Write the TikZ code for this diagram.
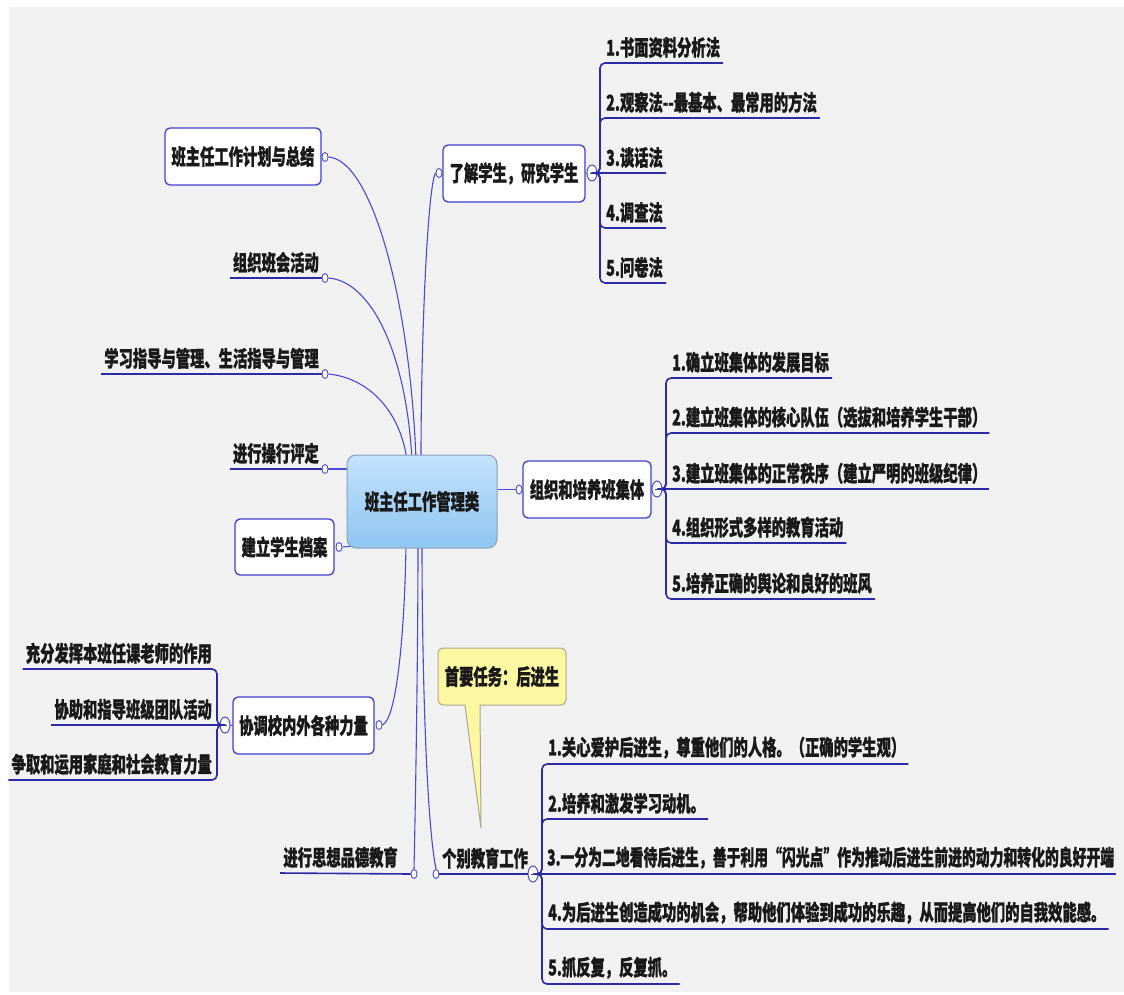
\documentclass[tikz,border=0pt]{standalone}
\usepackage{fontspec}
\setmainfont{Noto Sans CJK SC}[BoldFeatures={FakeBold=1.2}]
\usepackage{graphicx}
\usetikzlibrary{shapes.geometric}
\definecolor{panel}{HTML}{F1F1F1}
\definecolor{lineblue}{HTML}{4B4BD8}
\definecolor{ulblue}{HTML}{2B2BA8}
\definecolor{bord}{HTML}{3F3FD0}
\definecolor{rootTop}{HTML}{C4E2FB}
\definecolor{rootBot}{HTML}{8EC5F2}
\definecolor{rootBord}{HTML}{8A9FB8}
\definecolor{callFill}{HTML}{FCF7A0}
\definecolor{callBord}{HTML}{A8A890}
\pgfdeclarelayer{bg}
\pgfsetlayers{bg,main}
\newcommand\T[1]{\scalebox{1}[1.52]{#1}}
\begin{document}
\begin{tikzpicture}[x=1pt,y=-1pt,
 txt/.style={font=\fontsize{14.3}{16}\selectfont\bfseries, text=black!90},
 topic/.style={txt, draw=bord, line width=1.3pt, fill=white, rounded corners=5pt, inner sep=0pt},
 leaf/.style={txt, inner xsep=3pt, inner ysep=5pt},
 conn/.style={draw=lineblue, line width=1.1pt},
 uline/.style={draw=ulblue, line width=1.6pt, rounded corners=5pt},
 smalldot/.style={ellipse, draw=lineblue, fill=white, line width=0.9pt, minimum width=6pt, minimum height=9pt, inner sep=0pt},
 minusdot/.style={ellipse, draw=lineblue, fill=white, line width=1pt, minimum width=10pt, minimum height=16pt, inner sep=0pt,
   path picture={\draw[line width=0.8pt,black!70] ([xshift=-1.8pt]path picture bounding box.center) -- ([xshift=1.8pt]path picture bounding box.center);}},
 callout/.style={txt, draw=callBord, line width=1pt, fill=callFill, rounded corners=5pt, inner sep=0pt}
]
\useasboundingbox (0,0) rectangle (1124,994);
\begin{pgfonlayer}{bg}
\fill[white] (0,0) rectangle (1124,994);
\fill[panel] (9,7) rectangle (1124,992);
\end{pgfonlayer}

% central node
\node[txt, draw=rootBord, line width=1pt, rounded corners=9pt, top color=rootTop, bottom color=rootBot,
  minimum width=150pt, minimum height=93pt, inner sep=0pt] (root) at (422,501.5) {\T{班主任工作管理类}};

% main topics (boxed)
\node[topic, minimum width=156pt, minimum height=57pt] (plan) at (243,156.5) {\T{班主任工作计划与总结}};
\node[topic, minimum width=142pt, minimum height=57pt] (learn) at (514,173.5) {\T{了解学生，研究学生}};
\node[topic, minimum width=128pt, minimum height=57pt] (org) at (587,489.5) {\T{组织和培养班集体}};
\node[topic, minimum width=99pt, minimum height=56pt] (file) at (284.5,547) {\T{建立学生档案}};
\node[topic, minimum width=141pt, minimum height=57pt] (coord) at (303.5,725.5) {\T{协调校内外各种力量}};

% main topics (underlined)
\node[leaf, anchor=south east] (meet) at (322,278) {\T{组织班会活动}};
\node[leaf, anchor=south east] (study) at (322,374) {\T{学习指导与管理、生活指导与管理}};
\node[leaf, anchor=south east] (eval) at (322,469) {\T{进行操行评定}};
\node[leaf, anchor=south east] (moral) at (401,873) {\T{进行思想品德教育}};
\node[leaf, anchor=south west] (indiv) at (439,874) {\T{个别教育工作}};

% small connector dots
\node[smalldot] (dplan) at (325,157) {};
\node[smalldot] (dmeet) at (325,278) {};
\node[smalldot] (dstudy) at (325,374) {};
\node[smalldot] (deval) at (325,469) {};
\node[smalldot] (dfile) at (339,547) {};
\node[smalldot] (dcoord) at (379,725) {};
\node[smalldot] (dmoral) at (414,874) {};
\node[smalldot] (dindiv) at (436,874) {};
\node[smalldot] (dlearn) at (439,173) {};
\node[smalldot] (dorg) at (519,489.5) {};

% collapse (minus) dots
\node[minusdot] (mlearn) at (592,173) {};
\node[minusdot] (morg) at (657,489) {};
\node[minusdot] (mcoord) at (225,725) {};
\node[minusdot] (mindiv) at (533,874) {};

% children of 了解学生
\node[leaf, anchor=south west] (L1) at (603,63) {\T{1.书面资料分析法}};
\node[leaf, anchor=south west] (L2) at (603,118) {\T{2.观察法-{}-最基本、最常用的方法}};
\node[leaf, anchor=south west] (L3) at (603,173) {\T{3.谈话法}};
\node[leaf, anchor=south west] (L4) at (603,228) {\T{4.调查法}};
\node[leaf, anchor=south west] (L5) at (603,283) {\T{5.问卷法}};

% children of 组织和培养班集体
\node[leaf, anchor=south west] (O1) at (669,378) {\T{1.确立班集体的发展目标}};
\node[leaf, anchor=south west] (O2) at (669,433) {\T{2.建立班集体的核心队伍（选拔和培养学生干部）}};
\node[leaf, anchor=south west] (O3) at (669,489) {\T{3.建立班集体的正常秩序（建立严明的班级纪律）}};
\node[leaf, anchor=south west] (O4) at (669,543) {\T{4.组织形式多样的教育活动}};
\node[leaf, anchor=south west] (O5) at (669,599) {\T{5.培养正确的舆论和良好的班风}};

% children of 协调校内外各种力量
\node[leaf, anchor=south east] (C1) at (215,669) {\T{充分发挥本班任课老师的作用}};
\node[leaf, anchor=south east] (C2) at (215,725) {\T{协助和指导班级团队活动}};
\node[leaf, anchor=south east] (C3) at (215,780) {\T{争取和运用家庭和社会教育力量}};

% children of 个别教育工作
\node[leaf, anchor=south west] (I1) at (545,764) {\T{1.关心爱护后进生，尊重他们的人格。（正确的学生观）}};
\node[leaf, anchor=south west] (I2) at (545,819) {\T{2.培养和激发学习动机。}};
\node[leaf, anchor=south west, inner xsep=2pt] (I3) at (545,874) {\scalebox{0.968}[1.52]{3.一分为二地看待后进生，善于利用“闪光点”作为推动后进生前进的动力和转化的良好开端}};
\node[leaf, anchor=south west] (I4) at (545,929) {\T{4.为后进生创造成功的机会，帮助他们体验到成功的乐趣，从而提高他们的自我效能感。}};
\node[leaf, anchor=south west] (I5) at (545,984) {\T{5.抓反复，反复抓。}};

% bracket coordinates and root anchors
\coordinate (bl) at (600,173);
\coordinate (bo) at (666,489);
\coordinate (bc) at (217,725);
\coordinate (bi) at (542,874);
\coordinate (rPlan) at (416,460);
\coordinate (rMeet) at (412,460);
\coordinate (rStudy) at (407,460);
\coordinate (rLearn) at (421,460);
\coordinate (rFile) at (354,546);
\coordinate (rCoord) at (406,543);
\coordinate (rMoral) at (418,543);
\coordinate (rIndiv) at (422,543);

\begin{pgfonlayer}{bg}
% connectors from the central node
\draw[conn] (dplan.east) .. controls (372,160) and (410,300) .. (rPlan);
\draw[conn] (dmeet.east) .. controls (370,281) and (406,350) .. (rMeet);
\draw[conn] (dstudy.east) .. controls (368,378) and (400,410) .. (rStudy);
\draw[conn] (dlearn.west) .. controls (428,185) and (421,330) .. (rLearn);
\draw[conn] (deval.east) -- (root.west |- deval);
\draw[conn] (dfile.east) -- (rFile);
\draw[conn] (dcoord.east) .. controls (398,718) and (405,620) .. (rCoord);
\draw[conn] (dmoral.north) .. controls (416,780) and (418,640) .. (rMoral);
\draw[conn] (dindiv.north) .. controls (426,820) and (422,660) .. (rIndiv);
\draw[conn] (root.east |- dorg) -- (dorg.west);
\draw[conn] (learn.east) -- (mlearn.west);
\draw[conn] (org.east) -- (morg.west);
\draw[conn] (coord.west) -- (mcoord.east);
\end{pgfonlayer}

% underlines of main topics
\draw[uline] (meet.south west) -- (dmeet.west);
\draw[uline] (study.south west) -- (dstudy.west);
\draw[uline] (eval.south west) -- (deval.west);
\draw[uline] (moral.south west) -- (dmoral.west);
\draw[uline] (dindiv.east) -- (mindiv.west);

% brackets with underlines
\draw[uline] (mlearn.east) -- (bl) |- (L1.south east);
\draw[uline] (mlearn.east) -- (bl) |- (L2.south east);
\draw[uline] (mlearn.east) -- (L3.south east);
\draw[uline] (mlearn.east) -- (bl) |- (L4.south east);
\draw[uline] (mlearn.east) -- (bl) |- (L5.south east);

\draw[uline] (morg.east) -- (bo) |- (O1.south east);
\draw[uline] (morg.east) -- (bo) |- (O2.south east);
\draw[uline] (morg.east) -- (O3.south east);
\draw[uline] (morg.east) -- (bo) |- (O4.south east);
\draw[uline] (morg.east) -- (bo) |- (O5.south east);

\draw[uline] (mcoord.west) -- (bc) |- (C1.south west);
\draw[uline] (mcoord.west) -- (C2.south west);
\draw[uline] (mcoord.west) -- (bc) |- (C3.south west);

\draw[uline] (mindiv.east) -- (bi) |- (I1.south east);
\draw[uline] (mindiv.east) -- (bi) |- (I2.south east);
\draw[uline] (mindiv.east) -- (I3.south east);
\draw[uline] (mindiv.east) -- (bi) |- (I4.south east);
\draw[uline] (mindiv.east) -- (bi) |- (I5.south east);

% callout
\node[callout, minimum width=128pt, minimum height=57pt] (task) at (502,676.5) {\T{首要任务：后进生}};
\coordinate (tip) at (481,828);
\fill[callFill] (465,702) -- (tip) -- (480,702) -- cycle;
\draw[callBord, line width=1pt, line join=miter] (465,705) -- (tip) -- (480,705);
\end{tikzpicture}
\end{document}
